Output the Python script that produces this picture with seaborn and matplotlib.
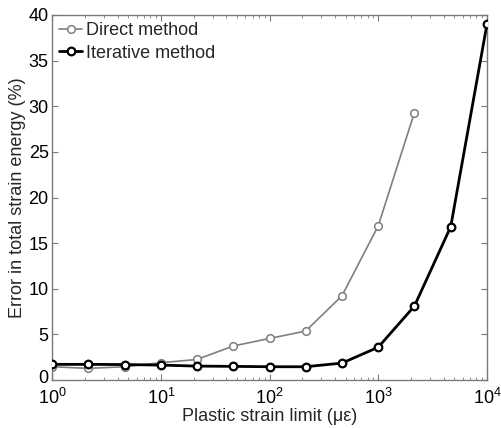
import matplotlib
matplotlib.use("Agg")
import matplotlib.pyplot as plt
import matplotlib.transforms as mtransforms
import seaborn as sns
import pandas as pd
from matplotlib.ticker import LogLocator, MultipleLocator

# Plastic strain limit (micro-strain) and error in total strain energy (%)
strain_limit = [1, 2.15, 4.64, 10, 21.5, 46.4, 100, 215, 464, 1000, 2150, 4640, 10000]
direct_err = [1.46, 1.28, 1.46, 1.9, 2.26, 3.73, 4.56, 5.37, 9.24, 16.9, 29.3]
iterative_err = [1.72, 1.72, 1.70, 1.64, 1.53, 1.50, 1.46, 1.46, 1.86, 3.6, 8.1, 16.8, 39.0]
series_names = ["Direct method", "Iterative method"]

df = pd.concat([
    pd.DataFrame({"limit": strain_limit[:len(direct_err)], "err": direct_err,
                  "method": series_names[0]}),
    pd.DataFrame({"limit": strain_limit, "err": iterative_err,
                  "method": series_names[1]}),
])

sns.set_style("ticks")
plt.rcParams["font.family"] = ["Liberation Sans", "DejaVu Sans"]
plt.rcParams["mathtext.fontset"] = "custom"
plt.rcParams["mathtext.rm"] = "Liberation Sans"
plt.rcParams["mathtext.it"] = "Liberation Sans:italic"
plt.rcParams["mathtext.default"] = "regular"

fig = plt.figure(figsize=(5.01, 4.28), dpi=100)
ax = fig.add_axes([0.104, 0.112, 0.868, 0.853])

styles = {
    series_names[0]: dict(color="#7f7f7f", lw=1.2, mew=1.1),
    series_names[1]: dict(color="#000000", lw=2.0, mew=1.6),
}
for name in series_names:
    st = styles[name]
    sns.lineplot(data=df[df["method"] == name], x="limit", y="err", ax=ax,
                 color=st["color"], linewidth=st["lw"], marker="o",
                 markersize=5.5, markerfacecolor="white",
                 markeredgecolor=st["color"], markeredgewidth=st["mew"],
                 label=name, zorder=3 if name == series_names[1] else 2)

ax.set_xscale("log")
ax.set_xlim(1, 1e4)
ax.set_ylim(0, 40)
ax.yaxis.set_major_locator(MultipleLocator(5))
ax.xaxis.set_major_locator(LogLocator(base=10, numticks=10))
ax.xaxis.set_minor_locator(LogLocator(base=10, subs=range(2, 10), numticks=20))

frame_color = "#7a7a7a"
for sp in ax.spines.values():
    sp.set_visible(True)
    sp.set_color(frame_color)
    sp.set_linewidth(1.0)

ax.tick_params(which="both", direction="in", top=True, right=True,
               color=frame_color, labelsize=13, labelcolor="black")
ax.tick_params(which="major", length=4.5, width=0.8)
ax.tick_params(which="minor", length=2, width=0.6)
ax.tick_params(axis="y", which="major", pad=2.5)
ax.tick_params(axis="x", which="major", pad=5.5)

ax.set_xlabel("Plastic strain limit (\u03bc\u03b5)", fontsize=13, labelpad=0)
ax.set_ylabel("Error in total strain energy (%)", fontsize=13, labelpad=2)

leg = ax.legend(loc="upper left", frameon=False, fontsize=13,
                handlelength=1.25, handletextpad=0.25, borderaxespad=0.15,
                labelspacing=0.3, borderpad=0.25)

# lift the zero label a little so it clears the 10^0 label beneath it
fig.canvas.draw()
for tick in ax.yaxis.get_major_ticks():
    if abs(tick.get_loc()) < 1e-9:
        lbl = tick.label1
        lbl.set_transform(lbl.get_transform()
                          + mtransforms.ScaledTranslation(0, 2.5 / 72, fig.dpi_scale_trans))

fig.savefig("out.png", dpi=100)
